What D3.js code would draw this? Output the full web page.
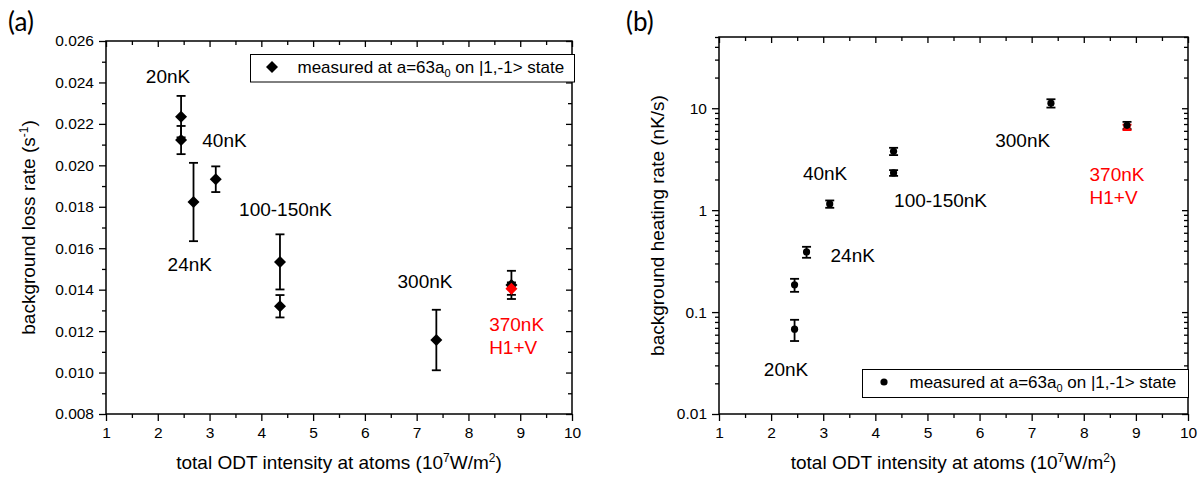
<!DOCTYPE html>
<html>
<head>
<meta charset="utf-8">
<script src="https://cdn.jsdelivr.net/npm/d3@7"></script>
<style>
  body { margin: 0; background: white; }
  text { font-family: "Liberation Sans", Arial, sans-serif; }
</style>
</head>
<body>
<div id="chart"></div>
<script>
// ---- data ----
const odtA = [2.45, 2.45, 2.69, 3.12, 4.36, 4.36, 7.38, 8.83];
const lossRate = [0.02235, 0.02122, 0.01823, 0.01933, 0.01534, 0.01320, 0.01157, 0.01423];
const lossErr = [0.00100, 0.00068, 0.00189, 0.00062, 0.00133, 0.00054, 0.00146, 0.00068];
const odtRedA = [8.83];
const lossRed = [0.01405];
const lossRedErr = [0.0003];

const odtB = [2.45, 2.45, 2.68, 3.125, 4.35, 4.35, 7.37, 8.83];
const heatRate = [0.068, 0.185, 0.389, 1.15, 3.78, 2.32, 11.2, 6.8];
const heatErr = [0.016, 0.027, 0.048, 0.095, 0.31, 0.15, 1.05, 0.55];
const odtRedB = [8.83];
const heatRed = [6.5];
const heatRedErr = [0.4];

const xTicks = [1, 2, 3, 4, 5, 6, 7, 8, 9, 10];
const yTicksA = [0.008, 0.010, 0.012, 0.014, 0.016, 0.018, 0.020, 0.022, 0.024, 0.026];
const yTicksB = [0.01, 0.1, 1, 10];
const yLabelsB = ["0.01", "0.1", "1", "10"];

// temperature annotations (data coordinates)
const labelsA = [
  {t: "20nK", x: 1.77, y: 0.02397},
  {t: "40nK", x: 2.86, y: 0.02090},
  {t: "100-150nK", x: 3.57, y: 0.017555},
  {t: "24nK", x: 2.19, y: 0.014915},
  {t: "300nK", x: 6.63, y: 0.014095},
  {t: "370nK", x: 8.40, y: 0.01202, red: true},
  {t: "H1+V", x: 8.40, y: 0.01088, red: true}
];
const labelsB = [
  {t: "40nK", x: 2.61, y: 1.977},
  {t: "100-150nK", x: 4.36, y: 1.082},
  {t: "300nK", x: 6.30, y: 4.196},
  {t: "370nK", x: 8.11, y: 1.933, red: true},
  {t: "H1+V", x: 8.11, y: 1.149, red: true},
  {t: "24nK", x: 3.14, y: 0.308},
  {t: "20nK", x: 1.86, y: 0.02377}
];

const w = 1200, h = 478;
const svg = d3.select("#chart").append("svg")
  .attr("width", w).attr("height", h)
  .style("background-color", "white");

const red = "#ff0000";

function drawFrame(x, y, yMajor, yMinor, yFmt) {
  const [l, r] = x.range();
  const [b, t] = y.range();
  const xMinor = d3.range(1.5, 10, 1);

  const g = svg.append("g");
  // bottom: outward ticks
  g.append("g").attr("transform", `translate(0,${b})`)
    .call(d3.axisBottom(x).tickValues(xTicks).tickSize(7).tickPadding(6).tickFormat(d3.format("d")));
  g.append("g").attr("transform", `translate(0,${b})`)
    .call(d3.axisBottom(x).tickValues(xMinor).tickSize(4).tickFormat(""));
  // top: inward ticks
  g.append("g").attr("transform", `translate(0,${t})`)
    .call(d3.axisTop(x).tickValues(xTicks).tickSize(-6).tickFormat(""));
  g.append("g").attr("transform", `translate(0,${t})`)
    .call(d3.axisTop(x).tickValues(xMinor).tickSize(-4).tickFormat(""));
  // left: outward
  g.append("g").attr("transform", `translate(${l},0)`)
    .call(d3.axisLeft(y).tickValues(yMajor).tickSize(7).tickPadding(5).tickFormat(yFmt));
  g.append("g").attr("transform", `translate(${l},0)`)
    .call(d3.axisLeft(y).tickValues(yMinor).tickSize(4).tickFormat(""));
  // right: inward
  g.append("g").attr("transform", `translate(${r},0)`)
    .call(d3.axisRight(y).tickValues(yMajor).tickSize(-6).tickFormat(""));
  g.append("g").attr("transform", `translate(${r},0)`)
    .call(d3.axisRight(y).tickValues(yMinor).tickSize(-4).tickFormat(""));

  g.selectAll(".domain").remove();
  g.selectAll(".tick line").attr("stroke", "#000").attr("stroke-width", 1.3);
  g.selectAll(".tick text").attr("fill", "#000").style("font-size", "15.5px")
    .style("font-family", "Liberation Sans, Arial, sans-serif");

  g.append("rect")
    .attr("x", l).attr("y", t).attr("width", r - l).attr("height", b - t)
    .attr("fill", "none").attr("stroke", "#000").attr("stroke-width", 1.5);
}

function errorBars(x, y, xs, ys, es, color) {
  const g = svg.append("g").attr("stroke", color).attr("stroke-width", 1.8).attr("fill", "none");
  xs.forEach((xv, i) => {
    const cx = x(xv), y1 = y(ys[i] + es[i]), y2 = y(ys[i] - es[i]);
    g.append("line").attr("x1", cx).attr("x2", cx).attr("y1", y1).attr("y2", y2);
    g.append("line").attr("x1", cx - 4.5).attr("x2", cx + 4.5).attr("y1", y1).attr("y2", y1);
    g.append("line").attr("x1", cx - 4.5).attr("x2", cx + 4.5).attr("y1", y2).attr("y2", y2);
  });
}

function annotate(x, y, labels) {
  svg.append("g").selectAll("text").data(labels).enter().append("text")
    .attr("x", d => x(d.x)).attr("y", d => y(d.y))
    .attr("fill", d => d.red ? red : "#000")
    .style("font-size", "19px")
    .text(d => d.t);
}

function legendText(sel) {
  sel.append("tspan").text("measured at a=63a");
  sel.append("tspan").attr("dy", 4).style("font-size", "11px").text("0");
  sel.append("tspan").attr("dy", -4).text(" on |1,-1> state");
}

// ================= panel (a) =================
const xA = d3.scaleLinear().domain([1, 10]).range([106, 572]);
const yA = d3.scaleLinear().domain([0.008, 0.026]).range([414, 41]);
const yMinorA = d3.range(0.009, 0.0255, 0.002);

drawFrame(xA, yA, yTicksA, yMinorA, d3.format(".3f"));

const diamond = d3.symbol().type(d3.symbolSquare).size(72);

errorBars(xA, yA, odtA, lossRate, lossErr, "#000");
errorBars(xA, yA, odtRedA, lossRed, lossRedErr, "#000");
svg.append("g").selectAll("path").data(odtA).enter().append("path")
  .attr("d", diamond)
  .attr("transform", (d, i) => `translate(${xA(d)},${yA(lossRate[i])}) rotate(45)`)
  .attr("fill", "#000");
svg.append("g").selectAll("path").data(odtRedA).enter().append("path")
  .attr("d", diamond)
  .attr("transform", (d, i) => `translate(${xA(d)},${yA(lossRed[i])}) rotate(45)`)
  .attr("fill", red);

annotate(xA, yA, labelsA);

// legend (a)
const legA = svg.append("g");
legA.append("rect").attr("x", 250.5).attr("y", 54.5).attr("width", 324).attr("height", 27.5)
  .attr("fill", "white").attr("stroke", "#000").attr("stroke-width", 1);
legA.append("path").attr("d", diamond).attr("transform", "translate(272,67) rotate(45)").attr("fill", "#000");
legA.append("text").attr("x", 297.5).attr("y", 73).style("font-size", "17px").call(legendText);

// y title (a)
const ytA = svg.append("text")
  .attr("transform", `translate(35,${(41 + 414) / 2}) rotate(-90)`)
  .attr("text-anchor", "middle").style("font-size", "19px");
ytA.append("tspan").text("background loss rate (s");
ytA.append("tspan").attr("dy", -7).style("font-size", "12px").text("-1");
ytA.append("tspan").attr("dy", 7).text(")");

// ================= panel (b) =================
const xB = d3.scaleLinear().domain([1, 10]).range([719, 1188]);
const yB = d3.scaleLog().domain([0.01, 50]).range([414, 37]);
const yMinorB = yB.ticks().filter(v => yTicksB.indexOf(v) < 0 && Math.abs(Math.log10(v) - Math.round(Math.log10(v))) > 1e-9);

drawFrame(xB, yB, yTicksB, yMinorB, (d, i) => yLabelsB[i]);

errorBars(xB, yB, odtB, heatRate, heatErr, "#000");
errorBars(xB, yB, odtRedB, heatRed, heatRedErr, red);
svg.append("g").selectAll("circle").data(odtRedB).enter().append("circle")
  .attr("cx", d => xB(d)).attr("cy", (d, i) => yB(heatRed[i])).attr("r", 3.6).attr("fill", red);
svg.append("g").selectAll("circle").data(odtB).enter().append("circle")
  .attr("cx", d => xB(d)).attr("cy", (d, i) => yB(heatRate[i])).attr("r", 3.6).attr("fill", "#000");

annotate(xB, yB, labelsB);

// legend (b)
const legB = svg.append("g");
legB.append("rect").attr("x", 862.5).attr("y", 369.5).attr("width", 326).attr("height", 28)
  .attr("fill", "white").attr("stroke", "#000").attr("stroke-width", 1);
legB.append("circle").attr("cx", 884).attr("cy", 382).attr("r", 3.6).attr("fill", "#000");
legB.append("text").attr("x", 909.5).attr("y", 388).style("font-size", "17px").call(legendText);

// y title (b)
svg.append("text")
  .attr("transform", `translate(664,${(37 + 414) / 2}) rotate(-90)`)
  .attr("text-anchor", "middle").style("font-size", "19px")
  .text("background heating rate (nK/s)");

// x titles
[xA, xB].forEach(x => {
  const r = x.range();
  const t = svg.append("text")
    .attr("x", (r[0] + r[1]) / 2).attr("y", 469)
    .attr("text-anchor", "middle").style("font-size", "19px");
  t.append("tspan").text("total ODT intensity at atoms (10");
  t.append("tspan").attr("dy", -7).style("font-size", "12px").text("7");
  t.append("tspan").attr("dy", 7).text("W/m");
  t.append("tspan").attr("dy", -7).style("font-size", "12px").text("2");
  t.append("tspan").attr("dy", 7).text(")");
});

// panel letters
svg.append("text").attr("x", 8).attr("y", 31).style("font-family", "Lato, sans-serif").style("font-size", "26px").text("(a)");
svg.append("text").attr("x", 626).attr("y", 31).style("font-family", "Lato, sans-serif").style("font-size", "26px").text("(b)");
</script>
</body>
</html>
